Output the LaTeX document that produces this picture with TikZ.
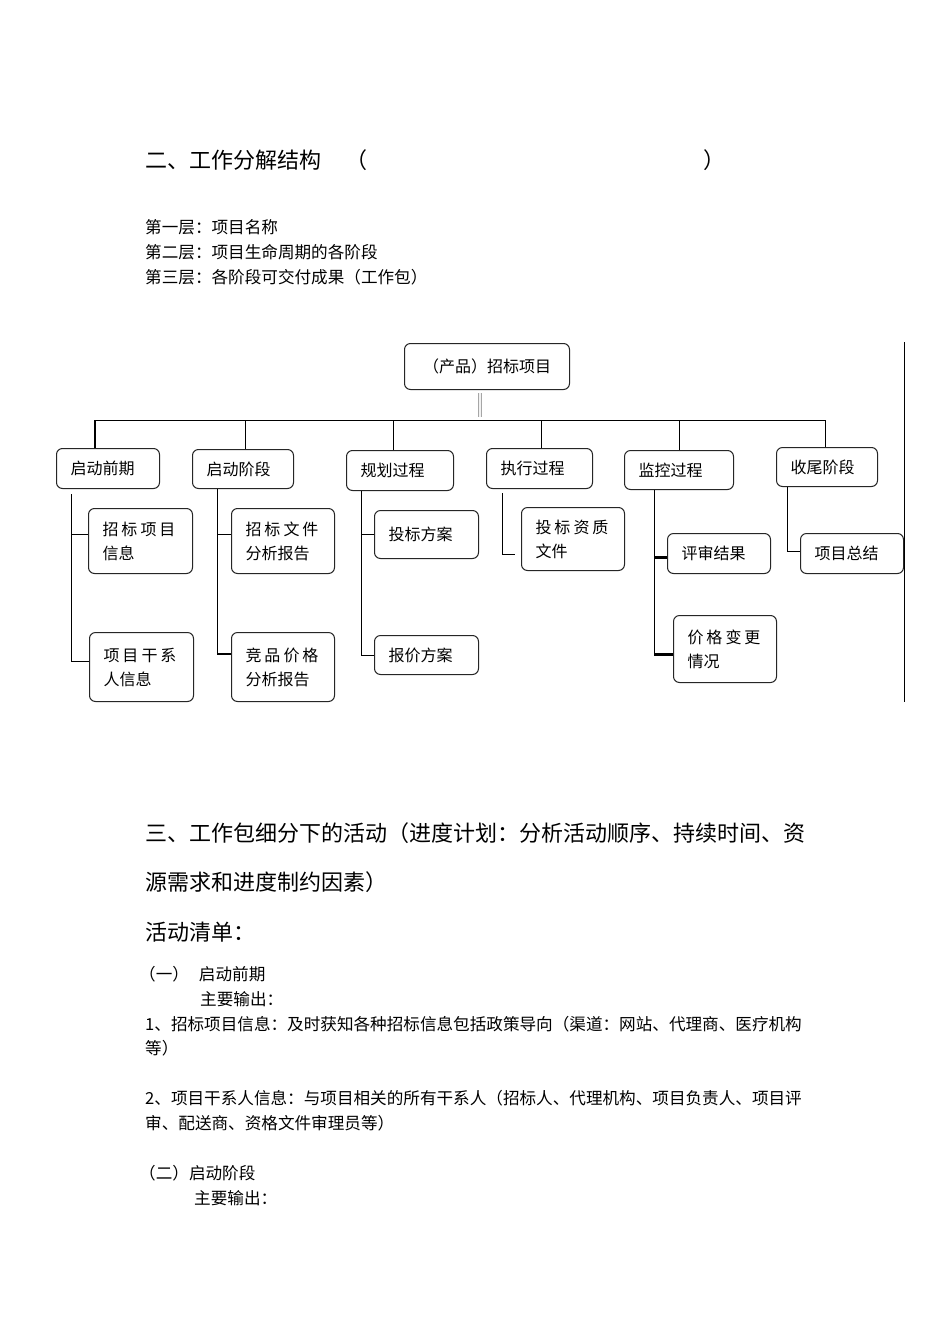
\documentclass[tikz,border=0pt]{standalone}
\usepackage{fontspec}
\setmainfont{Noto Sans CJK SC}
\newcommand\wsp{\hspace{3pt}}

\tikzset{
  wbsbox/.style={draw=black!85, line width=1pt, rounded corners=6pt, anchor=north west,
    inner xsep=14pt, inner ysep=0pt, align=left, font=\fontsize{16}{24}\selectfont},
  linetext/.style={anchor=west, inner sep=0pt, font=\fontsize{16.6}{20}\selectfont},
  headtext/.style={anchor=west, inner sep=0pt, font=\fontsize{22}{26}\selectfont},
  link/.style={line width=1pt},
  boldlink/.style={line width=2.2pt}
}

\begin{document}
\begin{tikzpicture}[x=1pt,y=-1pt]
  \fill[white] (0,0) rectangle (950,1344);
  \useasboundingbox (0,0) rectangle (950,1344);

  \node[headtext] (h2) at (145,160) {二、工作分解结构};
  \node[headtext] (h2l) at (345,160) {（};
  \node[headtext] (h2r) at (703,160) {）};
  \node[linetext] (lv1) at (145,227) {第一层：项目名称};
  \node[linetext] (lv2) at (145,252) {第二层：项目生命周期的各阶段};
  \node[linetext] (lv3) at (145,277) {第三层：各阶段可交付成果（工作包）};

  \node[wbsbox, text width=137pt, align=center, minimum height=46pt] (root) at (404,343) {（产品）招标项目};

  \node[wbsbox, text width=75pt, minimum height=40pt] (qd) at (56,448) {启动前期};
  \node[wbsbox, text width=73pt, minimum height=39pt] (qj) at (192,449) {启动阶段};
  \node[wbsbox, text width=79pt, minimum height=40pt] (gh) at (346,450) {规划过程};
  \node[wbsbox, text width=78pt, minimum height=40pt] (zx) at (486,448) {执行过程};
  \node[wbsbox, text width=81pt, minimum height=39pt] (jk) at (624,450) {监控过程};
  \node[wbsbox, text width=73pt, minimum height=39pt] (sw) at (776,447) {收尾阶段};

  \node[wbsbox, text width=76pt, minimum height=65pt] (qd1) at (88,508) {招\wsp 标\wsp 项\wsp 目\\信息};
  \node[wbsbox, text width=76pt, minimum height=69pt] (qd2) at (89,632) {项\wsp 目\wsp 干\wsp 系\\人信息};
  \node[wbsbox, text width=75pt, minimum height=65pt] (qj1) at (231,508) {招\wsp 标\wsp 文\wsp 件\\分析报告};
  \node[wbsbox, text width=75pt, minimum height=69pt] (qj2) at (231,632) {竞\wsp 品\wsp 价\wsp 格\\分析报告};
  \node[wbsbox, text width=76pt, minimum height=48pt] (gh1) at (374,510) {投标方案};
  \node[wbsbox, text width=76pt, minimum height=39pt] (gh2) at (374,635) {报价方案};
  \node[wbsbox, text width=75pt, minimum height=63pt] (zx1) at (521,507) {投\wsp 标\wsp 资\wsp 质\\文件};
  \node[wbsbox, text width=75pt, minimum height=40pt] (jk1) at (667,533) {评审结果};
  \node[wbsbox, text width=75pt, minimum height=67pt] (jk2) at (673,615) {价\wsp 格\wsp 变\wsp 更\\情况};
  \node[wbsbox, text width=75pt, minimum height=40pt] (sw1) at (800,533) {项目总结};

  \coordinate (busL) at (95,420);
  \coordinate (busR) at (825,420);
  \draw[draw=gray!70, double=gray!10, double distance=2.5pt, line width=0.7pt]
    ([xshift=-7pt,yshift=-3pt]root.south) -- ([xshift=-7pt,yshift=-27pt]root.south);
  \draw[link] (busL) -- (busR);
  \draw[boldlink] (qd.north -| busL) -- (busL);
  \foreach \n/\dx in {qj/2.5,gh/-6.5,zx/2,jk/0,sw/-1.5}
    \draw[link] ([xshift=\dx pt]\n.north) -- ([xshift=\dx pt]\n.north |- busL);

  \draw[link] ([xshift=15pt,yshift=-5pt]qd.south west) |- ([yshift=6.5pt]qd1.west);
  \draw[link] ([xshift=15pt,yshift=-5pt]qd.south west) |- ([yshift=5.5pt]qd2.west);
  \draw[link] ([xshift=25pt]qj.south west) |- ([yshift=6.5pt]qj1.west);
  \draw[link] ([xshift=25pt]qj.south west) |- ([yshift=13pt]qj2.west);
  \draw[boldlink] ([yshift=13pt]qj2.west) -- ([xshift=-14pt,yshift=13pt]qj2.west);
  \draw[link] ([xshift=15pt]gh.south west) |- (gh1.west);
  \draw[link] ([xshift=15pt]gh.south west) |- (gh2.west);
  \draw[link] ([xshift=16pt,yshift=-4pt]zx.south west) |- ([xshift=-6pt,yshift=-15.5pt]zx1.west);
  \draw[link] ([xshift=30pt]jk.south west) -- ([xshift=30pt]jk.south west |- 0,656);
  \draw[boldlink] ([yshift=-4pt]jk1.west) -- ++(-13,0);
  \draw[boldlink] ([yshift=-5.5pt]jk2.west) -- ++(-19,0);
  \draw[link] ([xshift=11pt]sw.south west) |- ([yshift=2pt]sw1.west);

  \coordinate (edgeT) at (904,342);
  \coordinate (edgeB) at (904,702);
  \draw[line width=0.8pt] (edgeT) -- (edgeB);

  \node[headtext] (h3a) at (145,833) {三、工作包细分下的活动（进度计划：分析活动顺序、持续时间、资};
  \node[headtext] (h3b) at (145,882) {源需求和进度制约因素）};
  \node[headtext] (h3c) at (145,932) {活动清单：};
  \node[linetext] (s1) at (139,974) {（一）\hspace{10pt}启动前期};
  \node[linetext] (s1o) at (200,999) {主要输出：};
  \node[linetext] (i1a) at (145,1024) {1、招标项目信息：及时获知各种招标信息包括政策导向（渠道：网站、代理商、医疗机构};
  \node[linetext] (i1b) at (145,1048) {等）};
  \node[linetext] (i2a) at (145,1098) {2、项目干系人信息：与项目相关的所有干系人（招标人、代理机构、项目负责人、项目评};
  \node[linetext] (i2b) at (145,1123) {审、配送商、资格文件审理员等）};
  \node[linetext] (s2) at (139,1173) {（二）启动阶段};
  \node[linetext] (s2o) at (194,1198) {主要输出：};
\end{tikzpicture}
\end{document}
